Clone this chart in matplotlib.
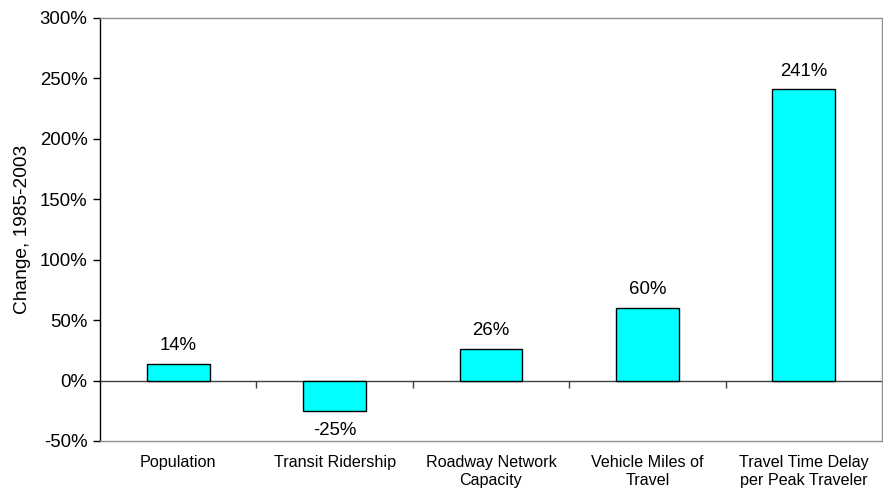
import numpy as np
import matplotlib.pyplot as plt
from matplotlib.ticker import FuncFormatter

plt.rcParams['font.family'] = ['Liberation Sans', 'DejaVu Sans']

categories = ["Population", "Transit Ridership", "Roadway Network\nCapacity",
              "Vehicle Miles of\nTravel", "Travel Time Delay\nper Peak Traveler"]
change_pct = [14, -25, 26, 60, 241]
bar_labels = ["14%", "-25%", "26%", "60%", "241%"]
y_ticks = [-50, 0, 50, 100, 150, 200, 250, 300]

fig = plt.figure(figsize=(8.83, 4.93), dpi=100)
ax = fig.add_axes([0.1133, 0.1055, 0.8855, 0.858])

x = np.arange(len(categories))
ax.bar(x, change_pct, width=0.4, color="#00FFFF", edgecolor="black", linewidth=1, zorder=3)

# data labels
for xi, v, lab in zip(x, change_pct, bar_labels):
    if v >= 0:
        ax.annotate(lab, (xi, v), xytext=(0, 7), textcoords="offset points",
                    ha="center", va="bottom", fontsize=13.4)
    else:
        ax.annotate(lab, (xi, v), xytext=(0, -8), textcoords="offset points",
                    ha="center", va="top", fontsize=13.4)

ax.set_xlim(-0.5, len(categories) - 0.5)
ax.set_ylim(-50, 300)
ax.set_yticks(y_ticks)
ax.yaxis.set_major_formatter(FuncFormatter(lambda v, p: f"{v:.0f}%"))
ax.tick_params(axis="y", labelsize=13.4, length=5, width=1, direction="out", color="black", pad=4)

ax.set_xticks(x)
ax.set_xticklabels(categories, fontsize=11.6, linespacing=1.3)
ax.tick_params(axis="x", length=0, pad=10)

# zero line with boundary ticks
ax.axhline(0, color="#404040", linewidth=1, zorder=2)
bounds = np.arange(1, len(categories)) - 0.5
ax.vlines(bounds, 0, -6, color="#404040", linewidth=1, zorder=2)

for s in ["top", "right", "bottom"]:
    ax.spines[s].set_color("#909090")
    ax.spines[s].set_linewidth(1)
ax.spines["left"].set_color("black")
ax.spines["left"].set_linewidth(1)

ax.set_ylabel("Change, 1985-2003", fontsize=13.8, labelpad=6)

fig.savefig("out.png", dpi=100)
